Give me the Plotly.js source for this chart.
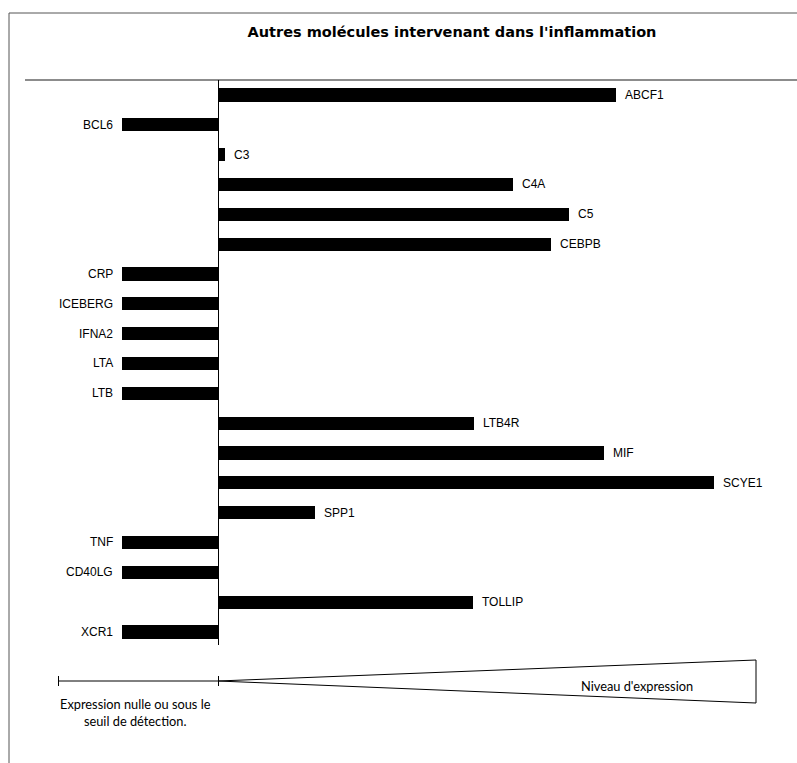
<!DOCTYPE html>
<html>
<head>
<meta charset="utf-8">
<script src="https://cdn.plot.ly/plotly-3.0.1.min.js"></script>
<style>html,body{margin:0;padding:0;background:#fff;}#chart{width:797px;height:763px;}</style>
</head>
<body>
<div id="chart"></div>
<script>
// ---- Data ----
const genes = ["ABCF1","BCL6","C3","C4A","C5","CEBPB","CRP","ICEBERG","IFNA2","LTA","LTB","LTB4R","MIF","SCYE1","SPP1","TNF","CD40LG","TOLLIP","XCR1"];
const expression = [4.15,-1,0.07,3.07,3.66,3.47,-1,-1,-1,-1,-1,2.67,4.02,5.17,1.01,-1,-1,2.66,-1];
const titleText = "Autres molécules intervenant dans l'inflammation";
const legendLeftText = "Expression nulle ou sous le<br>seuil de détection.";
const legendRightText = "Niveau d'expression";

// ---- Layout helpers (figure pixels -> paper) ----
const W = 797, H = 763;
const px = x => x / W;
const py = y => 1 - y / H;

const trace = {
  type: "bar",
  orientation: "h",
  y: genes,
  x: expression,
  width: 0.44,
  marker: {color: "#000000", line: {width: 0}},
  hoverinfo: "y+x"
};

const ARIAL = "Liberation Sans";
const labelFont = {family: ARIAL, size: 12, color: "#000"};
const annotations = genes.map((g, i) => ({
  x: expression[i], y: g, xref: "x", yref: "y",
  text: g, showarrow: false,
  xanchor: expression[i] < 0 ? "right" : "left",
  xshift: expression[i] < 0 ? -7 : 7,
  font: labelFont
}));

const noteFont = {family: "Lato", size: 12.8, color: "#000"};
annotations.push({
  xref: "paper", yref: "paper", x: px(135), y: py(712),
  text: legendLeftText, showarrow: false, xanchor: "center", yanchor: "middle",
  align: "center", font: noteFont
});
annotations.push({
  xref: "paper", yref: "paper", x: px(637), y: py(686),
  text: legendRightText, showarrow: false, xanchor: "center", yanchor: "middle",
  font: noteFont
});

const shapes = [
  // outer frame (top & left)
  {type: "line", xref: "paper", yref: "paper", x0: px(9), x1: px(797), y0: py(13), y1: py(13), line: {color: "#555", width: 1}},
  {type: "line", xref: "paper", yref: "paper", x0: px(9), x1: px(9), y0: py(13), y1: py(763), line: {color: "#555", width: 1}},
  // separator under title
  {type: "line", xref: "paper", yref: "paper", x0: px(25), x1: px(797), y0: py(80), y1: py(80), line: {color: "#666", width: 1.3}},
  // zero axis
  {type: "line", xref: "paper", yref: "paper", x0: px(218.5), x1: px(218.5), y0: py(80), y1: py(645), line: {color: "#000", width: 1}},
  // scale bar (not detected)
  {type: "line", xref: "paper", yref: "paper", x0: px(58), x1: px(218), y0: py(681), y1: py(681), line: {color: "#000", width: 1}},
  {type: "line", xref: "paper", yref: "paper", x0: px(58.5), x1: px(58.5), y0: py(676), y1: py(686), line: {color: "#000", width: 1}},
  {type: "line", xref: "paper", yref: "paper", x0: px(218.5), x1: px(218.5), y0: py(676), y1: py(686), line: {color: "#000", width: 1}},
  // expression wedge
  {type: "path", xref: "paper", yref: "paper",
   path: "M " + px(218) + "," + py(681) + " L " + px(756) + "," + py(660) + " L " + px(756) + "," + py(703) + " Z",
   line: {color: "#000", width: 1}, fillcolor: "rgba(0,0,0,0)"}
];

const layout = {
  width: W, height: H,
  margin: {l: 0, r: 0, t: 0, b: 0, pad: 0},
  paper_bgcolor: "#fff", plot_bgcolor: "#fff",
  showlegend: false,
  font: {family: ARIAL},
  title: {
    text: "<b>" + titleText + "</b>",
    x: px(452), xref: "paper", xanchor: "center",
    y: py(32), yref: "paper", yanchor: "middle",
    font: {family: "DejaVu Sans", size: 14.5, color: "#000"}
  },
  xaxis: {range: [-218/96, (797-218)/96], visible: false, fixedrange: true},
  yaxis: {type: "category", categoryorder: "array", categoryarray: genes,
          range: [(763-95)/29.83, -95/29.83], visible: false, fixedrange: true},
  bargap: 0,
  annotations: annotations,
  shapes: shapes
};

Plotly.newPlot("chart", [trace], layout, {displayModeBar: false, staticPlot: true});
</script>
</body>
</html>
